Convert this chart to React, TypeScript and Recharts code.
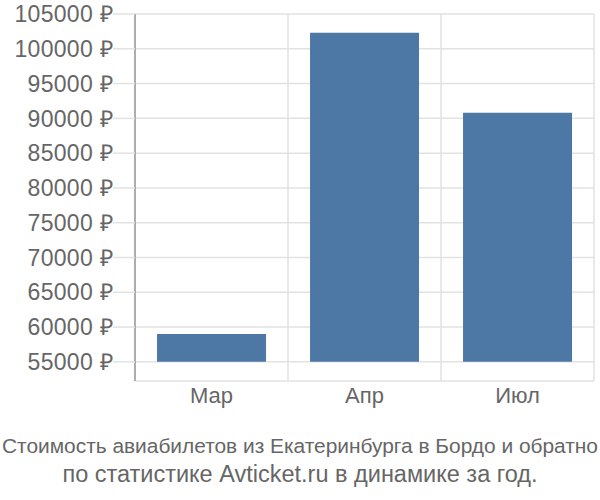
import React from 'react';
import { BarChart, Bar, XAxis, YAxis, CartesianGrid } from 'recharts';

const months = ['Мар', 'Апр', 'Июл'];
const prices = [59000, 102300, 90800];
const yTicks = [55000, 60000, 65000, 70000, 75000, 80000, 85000, 90000, 95000, 100000, 105000];
const baseline = 55000;

const titleLines = [
  'Стоимость авиабилетов из Екатеринбурга в Бордо и обратно',
  'по статистике Avticket.ru в динамике за год.',
];

const data = months.map((m, i) => ({ month: m, price: [baseline, prices[i]] }));

const font = '"Liberation Sans", Arial, sans-serif';

const App: React.FC = () => {
  return (
    <div style={{ position: 'absolute', left: 0, top: 0, width: 600, height: 500, fontFamily: font }}>
      <BarChart
        width={600}
        height={500}
        data={data}
        margin={{ top: 14, right: 6, left: 0, bottom: 89 }}
        barCategoryGap="14.4%"
      >
        <CartesianGrid
          stroke="#e2e2e2"
          strokeWidth={1.5}
          verticalCoordinatesGenerator={({ offset }: any) =>
            [0, 1, 2, 3].map((i) => offset.left + (i * offset.width) / months.length)
          }
        />
        <XAxis
          dataKey="month"
          height={30}
          axisLine={false}
          tickLine={false}
          tickSize={0}
          tickMargin={6}
          tick={{ fill: '#666', fontSize: 22, fontFamily: font }}
        />
        <YAxis
          domain={[52250, 105000]}
          ticks={yTicks}
          width={135}
          interval={0}
          allowDataOverflow
          axisLine={{ stroke: '#999', strokeWidth: 1.5 }}
          tickLine={{ stroke: '#e2e2e2', strokeWidth: 1.5 }}
          tickSize={22}
          tickMargin={0}
          tickFormatter={(v: number) => `${v} ₽`}
          tick={{ fill: '#666', fontSize: 23, fontFamily: font, letterSpacing: 0.3 }}
        />
        <Bar dataKey="price" fill="#4d78a6" isAnimationActive={false} />
      </BarChart>
      <svg width={600} height={70} style={{ position: 'absolute', left: 0, top: 430 }}>
        <text
          x={300}
          y={23}
          textAnchor="middle"
          fill="#666"
          fontSize={20.5}
          fontFamily={font}
          textLength={596}
          lengthAdjust="spacingAndGlyphs"
        >
          {titleLines[0]}
        </text>
        <text x={300} y={52} textAnchor="middle" fill="#666" fontSize={23.5} fontFamily={font}>
          {titleLines[1]}
        </text>
      </svg>
    </div>
  );
};

export default App;
